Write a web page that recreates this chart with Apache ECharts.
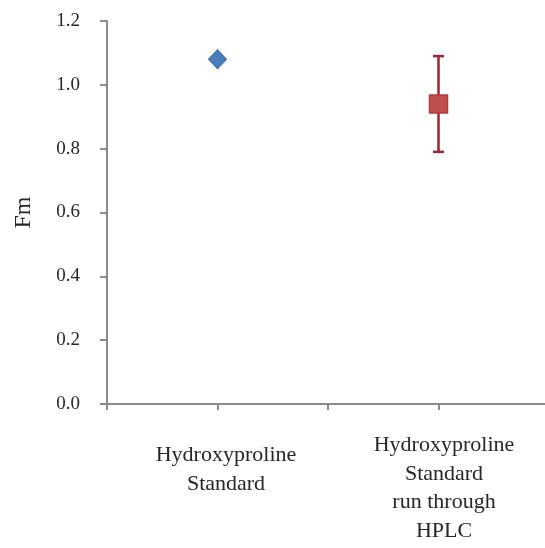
<!DOCTYPE html>
<html>
<head>
<meta charset="utf-8">
<style>
  html, body { margin: 0; padding: 0; background: #fff; }
  #chart { width: 545px; height: 548px; }
</style>
<script src="https://cdn.jsdelivr.net/npm/echarts@6/dist/echarts.min.js"></script>
</head>
<body>
<div id="chart"></div>
<script>
// Sample groups placed at positions 1 and 3 on the horizontal axis
const groupLabels = {
  1: ['Hydroxyproline', 'Standard'],
  3: ['Hydroxyproline', 'Standard', 'run through', 'HPLC']
};
const standardFm = [[1, 1.08]];
const hplcFm = [[3, 0.94]];
const hplcError = [[3, 0.94, 0.79, 1.09]]; // x, mean, low, high

const serif = '"Liberation Serif", "DejaVu Serif", serif';
const axisGray = '#8a8a8a';
const textColor = '#262626';

function richLine(pad) {
  return { fontFamily: serif, fontSize: 22, color: textColor, lineHeight: 28.5, padding: pad };
}

const chart = echarts.init(document.getElementById('chart'));
chart.setOption({
  animation: false,
  grid: { left: 107, right: -4, top: 21, bottom: 144, containLabel: false, outerBoundsMode: 'none' },
  xAxis: {
    type: 'value',
    min: 0, max: 4, interval: 1,
    splitLine: { show: false },
    axisLine: { lineStyle: { color: axisGray, width: 2 } },
    axisTick: { show: true, length: 6, lineStyle: { color: axisGray, width: 2 } },
    axisLabel: {
      margin: 27,
      showMinLabel: true, showMaxLabel: true,
      formatter: function (v) {
        const lines = groupLabels[v];
        if (!lines) return '';
        const cls = v === 1 ? 'a' : 'b';
        const body = lines.map(s => '{' + cls + '|' + s + '}');
        // the shorter label sits a little lower under its tick
        if (v === 1) body.unshift('{sp| }');
        return body.join('\n');
      },
      rich: {
        sp: { fontSize: 1, lineHeight: 10 },
        a:  richLine([0, 0, 0, 17]),
        b:  richLine([0, 0, 0, 11])
      }
    }
  },
  yAxis: {
    type: 'value',
    min: 0, max: 1.2, interval: 0.2,
    name: 'Fm',
    nameLocation: 'middle',
    nameGap: 71,
    nameRotate: 90,
    nameTextStyle: { fontFamily: serif, fontSize: 24, color: textColor },
    splitLine: { show: false },
    axisLine: { show: true, lineStyle: { color: axisGray, width: 2 } },
    axisTick: { show: true, length: 7, lineStyle: { color: axisGray, width: 2 } },
    axisLabel: {
      margin: 27,
      fontFamily: serif, fontSize: 19, color: textColor,
      formatter: v => v.toFixed(1)
    }
  },
  series: [
    {
      name: 'Hydroxyproline Standard',
      type: 'scatter',
      symbol: 'diamond',
      symbolSize: [18, 19],
      itemStyle: { color: '#4a7ebb', borderColor: '#3d6eaa', borderWidth: 1, opacity: 1 },
      data: standardFm,
      z: 3
    },
    {
      name: 'error',
      type: 'custom',
      renderItem: function (params, api) {
        const x = api.value(0);
        const lo = api.coord([x, api.value(2)]);
        const hi = api.coord([x, api.value(3)]);
        const cap = 5.5;
        const style = { stroke: '#9e2330', lineWidth: 2.5 };
        return {
          type: 'group',
          children: [
            { type: 'line', shape: { x1: lo[0], y1: lo[1], x2: hi[0], y2: hi[1] }, style },
            { type: 'line', shape: { x1: hi[0] - cap, y1: hi[1], x2: hi[0] + cap, y2: hi[1] }, style },
            { type: 'line', shape: { x1: lo[0] - cap, y1: lo[1], x2: lo[0] + cap, y2: lo[1] }, style }
          ]
        };
      },
      encode: { x: 0, y: [1, 2, 3] },
      data: hplcError,
      z: 2
    },
    {
      name: 'Hydroxyproline Standard run through HPLC',
      type: 'scatter',
      symbol: 'rect',
      symbolSize: 18,
      itemStyle: { color: '#c0504d', borderColor: '#b03c3c', borderWidth: 1.5, opacity: 1 },
      data: hplcFm,
      z: 3
    }
  ]
});
</script>
</body>
</html>
